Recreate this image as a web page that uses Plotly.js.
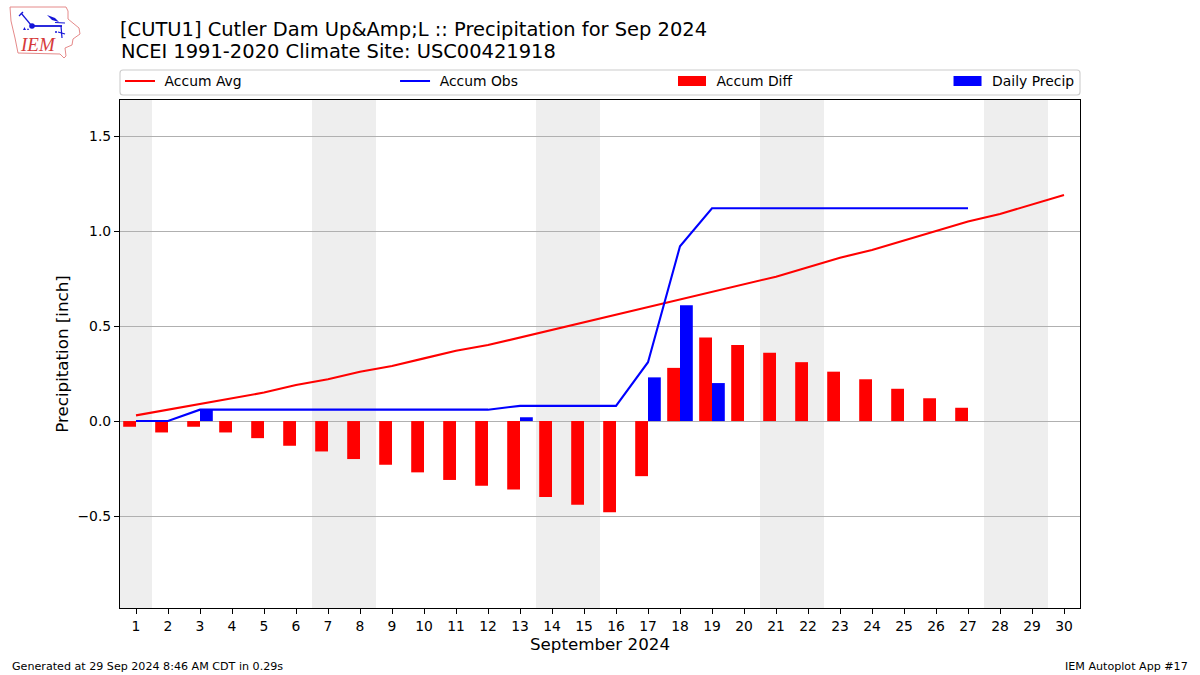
<!DOCTYPE html>
<html><head><meta charset="utf-8">
<script src="https://cdn.plot.ly/plotly-3.0.1.min.js"></script>
<style>html,body{margin:0;padding:0;background:#fff}#c{width:1200px;height:675px}</style>
</head><body><div id="c"></div>
<script>
const days=[1,2,3,4,5,6,7,8,9,10,11,12,13,14,15,16,17,18,19,20,21,22,23,24,25,26,27,28,29,30];
const accumAvg=[0.03,0.06,0.09,0.12,0.15,0.19,0.22,0.26,0.29,0.33,0.37,0.40,0.44,0.48,0.52,0.56,0.60,0.64,0.68,0.72,0.76,0.81,0.86,0.90,0.95,1.00,1.05,1.09,1.14,1.19];
const obsDays=[1,2,3,4,5,6,7,8,9,10,11,12,13,14,15,16,17,18,19,20,21,22,23,24,25,26,27];
const accumObs=[0,0,0.06,0.06,0.06,0.06,0.06,0.06,0.06,0.06,0.06,0.06,0.08,0.08,0.08,0.08,0.31,0.92,1.12,1.12,1.12,1.12,1.12,1.12,1.12,1.12,1.12];
const accumDiff=[-0.03,-0.06,-0.03,-0.06,-0.09,-0.13,-0.16,-0.20,-0.23,-0.27,-0.31,-0.34,-0.36,-0.40,-0.44,-0.48,-0.29,0.28,0.44,0.40,0.36,0.31,0.26,0.22,0.17,0.12,0.07];
const dailyPrecip=[0,0,0.06,0,0,0,0,0,0,0,0,0,0.02,0,0,0,0.23,0.61,0.20,0,0,0,0,0,0,0,0];
const weekends=[[0.5,1.5],[6.5,8.5],[13.5,15.5],[20.5,22.5],[27.5,29.5]];
const yTicks=[-0.5,0,0.5,1,1.5];
const F='DejaVu Sans';
const legendStyle=x=>({x:x,y:1+2.5/508,xref:'paper',yref:'paper',xanchor:'left',yanchor:'bottom',orientation:'h',bgcolor:'rgba(0,0,0,0)',borderwidth:0,itemwidth:30,font:{family:F,size:13.9,color:'#000'},tracegroupgap:0});
const logoSvg=`<svg xmlns="http://www.w3.org/2000/svg" width="80" height="60" viewBox="0 0 80 60"><path d="M5 4 L61 4 L63 8 L63 16 L74 25 L75 31 L68 36 L67 42 L60 45 L61 53 L59 55 L55 51 L13 50 L10 35 L6 18 Z" fill="none" stroke="#e58a8a" stroke-width="1"/><g stroke="#1414d8" fill="none" stroke-width="1.2"><path d="M16 10 L26 22"/><path d="M14 13 L18 9" /><path d="M27 23 L57 23" stroke-width="1.8"/><path d="M56 23 L57 35"/><path d="M50 19.5 L60 20"/><path d="M53 29 L60 31"/></g><circle cx="27" cy="23" r="2.8" fill="#1414d8"/><path d="M42 12 L50 15 L54 19 L47 17 Z" fill="#1414d8"/><path d="M18 27h3l-1.5-3z M22 27h2l-1-2z" fill="#1414d8"/><circle cx="51" cy="29" r="1" fill="#1414d8"/></svg>`;
const traces=[
 {type:'scatter',mode:'lines',name:'Accum Avg',x:days,y:accumAvg,line:{color:'#ff0000',width:2.08},legend:'legend'},
 {type:'scatter',mode:'lines',name:'Accum Obs',x:obsDays,y:accumObs,line:{color:'#0000ff',width:2.08},legend:'legend2'},
 {type:'bar',name:'Accum Diff',x:obsDays,y:accumDiff,width:0.4,offset:-0.4,marker:{color:'#ff0000',line:{width:0}},legend:'legend3'},
 {type:'bar',name:'Daily Precip',x:obsDays,y:dailyPrecip,width:0.4,offset:0,marker:{color:'#0000ff',line:{width:0}},legend:'legend4'}
];
const rx=3/960,ry=3/508,by0=(608-95)/508,by1=(608-70)/508;
const layout={
 width:1200,height:675,paper_bgcolor:'#fff',plot_bgcolor:'#fff',showlegend:true,
 margin:{l:120,r:120,t:100,b:67},barmode:'overlay',
 font:{family:F,color:'#000'},
 title:{text:'[CUTU1] Cutler Dam Up&Amp;L :: Precipitation for Sep 2024',x:120/1200,xref:'container',xanchor:'left',y:1-29/675,yref:'container',yanchor:'middle',font:{family:F,size:19.47,color:'#000'}},
 xaxis:{range:[0.5,30.5],tickmode:'array',tickvals:days,ticktext:days.map(String),ticks:'outside',ticklen:5,tickwidth:1.1,tickcolor:'#000',showgrid:false,zeroline:false,showline:true,mirror:true,linecolor:'#000',linewidth:1.1,tickfont:{family:F,size:13.9},tickangle:0,title:{text:'September 2024',font:{family:F,size:16.7},standoff:4}},
 yaxis:{range:[-0.984,1.69],tickmode:'array',tickvals:yTicks,ticktext:['\u22120.5','0.0','0.5','1.0','1.5'],ticks:'outside',ticklen:5,tickwidth:1.1,tickcolor:'#000',showgrid:true,gridcolor:'#b0b0b0',gridwidth:1.1,zeroline:false,showline:true,mirror:true,linecolor:'#000',linewidth:1.1,tickfont:{family:F,size:13.9},title:{text:'Precipitation [inch]',font:{family:F,size:16.7},standoff:4}},
 legend:legendStyle(0.0),legend2:legendStyle(0.2865),legend3:legendStyle(0.575),legend4:legendStyle(0.862),
 shapes:weekends.map(w=>({type:'rect',xref:'x',yref:'paper',x0:w[0],x1:w[1],y0:0,y1:1,fillcolor:'#eeeeee',line:{width:0},layer:'below'})).concat([
  {type:'path',xref:'paper',yref:'paper',path:`M ${rx} ${by0} L ${1-rx} ${by0} Q 1 ${by0} 1 ${by0+ry} L 1 ${by1-ry} Q 1 ${by1} ${1-rx} ${by1} L ${rx} ${by1} Q 0 ${by1} 0 ${by1-ry} L 0 ${by0+ry} Q 0 ${by0} ${rx} ${by0} Z`,fillcolor:'rgba(0,0,0,0)',line:{color:'#cccccc',width:1.1},layer:'above'}
 ]),
 annotations:[
  {text:'NCEI 1991-2020 Climate Site: USC00421918',xref:'paper',yref:'paper',x:0,y:(608-52)/508,xanchor:'left',yanchor:'middle',showarrow:false,xshift:-1,font:{family:F,size:19.47}},
  {text:'Generated at 29 Sep 2024 8:46 AM CDT in 0.29s',xref:'paper',yref:'paper',x:-110/960,y:(608-666)/508,xanchor:'left',yanchor:'middle',showarrow:false,font:{family:F,size:11.12}},
  {text:'IEM Autoplot App #17',xref:'paper',yref:'paper',x:1070/960,y:(608-666)/508,xanchor:'right',yanchor:'middle',showarrow:false,font:{family:F,size:11.12}},
  {text:'<i>IEM</i>',xref:'paper',yref:'paper',x:-82.5/960,y:(608-45)/508,xanchor:'center',yanchor:'middle',showarrow:false,font:{family:'Liberation Serif',size:19,color:'#d63a3a'}}
 ],
 images:[{source:'data:image/svg+xml;utf8,'+encodeURIComponent(logoSvg),xref:'paper',yref:'paper',x:-115/960,y:(608-3)/508,sizex:80/960,sizey:60/508,sizing:'stretch',xanchor:'left',yanchor:'top',layer:'above'}]
};
function tweakLegend(){
 document.querySelectorAll('#c .legendpoints path').forEach(p=>{
  const d=p.getAttribute('d')||'';
  if(d.startsWith('M6,6')) p.setAttribute('d','M14,5H-14V-5H14Z');
 });
 document.querySelectorAll('#c .legendtext,#c .legend2text,#c .legend3text,#c .legend4text').forEach(t=>t.setAttribute('x','44.6'));
}
Plotly.newPlot('c',traces,layout,{displayModeBar:false,responsive:false}).then(gd=>{
 gd.on('plotly_afterplot',tweakLegend);
 tweakLegend();
 [0,20,60,150,400,1000].forEach(ms=>setTimeout(tweakLegend,ms));
});
</script></body></html>
